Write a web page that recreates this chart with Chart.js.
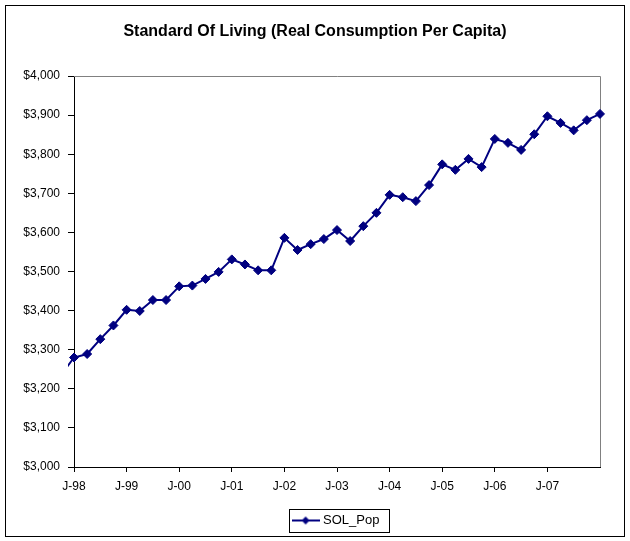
<!DOCTYPE html>
<html>
<head>
<meta charset="utf-8">
<script src="https://cdn.jsdelivr.net/npm/chart.js@4"></script>
<style>
  html, body { margin: 0; padding: 0; background: #fff; }
  #wrap { width: 630px; height: 541px; }
</style>
</head>
<body>
<div id="wrap"><canvas id="solChart" width="630" height="541"></canvas></div>
<script>
// quarterly observations (first and last lie just outside the axis range)
const quarters = [
  '1997-10',
  '1998-01', '1998-04', '1998-07', '1998-10',
  '1999-01', '1999-04', '1999-07', '1999-10',
  '2000-01', '2000-04', '2000-07', '2000-10',
  '2001-01', '2001-04', '2001-07', '2001-10',
  '2002-01', '2002-04', '2002-07', '2002-10',
  '2003-01', '2003-04', '2003-07', '2003-10',
  '2004-01', '2004-04', '2004-07', '2004-10',
  '2005-01', '2005-04', '2005-07', '2005-10',
  '2006-01', '2006-04', '2006-07', '2006-10',
  '2007-01', '2007-04', '2007-07', '2007-10',
  '2008-01', '2008-04'
];
const solPop = [
  3235,
  3280, 3289, 3327, 3362,
  3402, 3399, 3427, 3427,
  3462, 3464, 3481, 3499,
  3531, 3518, 3503, 3503,
  3586, 3555, 3570, 3583,
  3606, 3578, 3616, 3650,
  3696, 3690, 3680, 3721,
  3774, 3760, 3788, 3767,
  3839, 3829, 3811, 3851,
  3897, 3880, 3861, 3887,
  3903, 3857
];
const yearTicks = ['J-98', 'J-99', 'J-00', 'J-01', 'J-02', 'J-03', 'J-04', 'J-05', 'J-06', 'J-07'];

const NAVY = '#000080';
const FONT = "'Liberation Sans', Arial, sans-serif";

// months since Jan 1998
function monthIndex(q) {
  const [y, m] = q.split('-').map(Number);
  return (y - 1998) * 12 + (m - 1);
}
const points = quarters.map((q, i) => ({ x: monthIndex(q), y: solPop[i] }));

// legend icon: line with a diamond, like Excel
const legendIcon = document.createElement('canvas');
legendIcon.width = 28;
legendIcon.height = 12;
(function () {
  const c = legendIcon.getContext('2d');
  c.strokeStyle = NAVY;
  c.lineWidth = 2;
  c.beginPath();
  c.moveTo(0, 6);
  c.lineTo(28, 6);
  c.stroke();
  c.fillStyle = NAVY;
  c.beginPath();
  c.moveTo(14, 2);
  c.lineTo(18, 6);
  c.lineTo(14, 10);
  c.lineTo(10, 6);
  c.closePath();
  c.fill();
})();

const framePlugin = {
  id: 'frame',
  beforeDraw(chart) {
    const ctx = chart.ctx;
    ctx.save();
    ctx.fillStyle = '#fff';
    ctx.fillRect(0, 0, chart.width, chart.height);
    ctx.restore();
  },
  afterLayout(chart) {
    // centre legend under the plot area
    const lg = chart.legend;
    lg.left = chart.chartArea.left;
    lg.right = chart.chartArea.right;
  },
  beforeDatasetsDraw(chart) {
    const { ctx, chartArea: a } = chart;
    ctx.save();
    ctx.strokeStyle = '#808080';
    ctx.lineWidth = 1;
    ctx.beginPath();
    ctx.moveTo(a.left, a.top + 0.5);
    ctx.lineTo(a.right + 0.5, a.top + 0.5);
    ctx.lineTo(a.right + 0.5, a.bottom);
    ctx.stroke();
    ctx.restore();
  },
  afterDraw(chart) {
    const ctx = chart.ctx;
    ctx.save();
    ctx.strokeStyle = '#000';
    ctx.lineWidth = 1;
    ctx.strokeRect(5.5, 5.5, 619, 531);
    const hb = chart.legend.legendHitBoxes[0];
    if (hb) {
      const l = Math.round(hb.left - 6) + 0.5;
      const t = Math.round(hb.top - 5) + 0.5;
      const r = Math.round(hb.left + hb.width + 10) + 0.5;
      const b = Math.round(hb.top + hb.height + 5) + 0.5;
      ctx.strokeRect(l, t, r - l, b - t);
    }
    ctx.restore();
  }
};

new Chart(document.getElementById('solChart'), {
  type: 'line',
  data: {
    datasets: [{
      label: 'SOL_Pop',
      data: points,
      borderColor: NAVY,
      backgroundColor: NAVY,
      borderWidth: 2,
      tension: 0,
      pointStyle: 'rectRot',
      pointRadius: 4.5,
      pointBorderWidth: 1,
      pointBackgroundColor: NAVY,
      pointBorderColor: NAVY,
      clip: { left: 6, right: 6, top: 6, bottom: 6 }
    }]
  },
  options: {
    responsive: false,
    animation: false,
    events: [],
    layout: { padding: { left: 0, right: 0, top: 0, bottom: 4 } },
    plugins: {
      title: {
        display: true,
        text: 'Standard Of Living (Real Consumption Per Capita)',
        color: '#000',
        font: { family: FONT, size: 16, weight: 'bold' },
        padding: { top: 22.4, bottom: 34.4 }
      },
      legend: {
        display: true,
        position: 'bottom',
        labels: {
          color: '#000',
          font: { family: FONT, size: 13 },
          usePointStyle: true,
          pointStyleWidth: 22,
          padding: 10,
          generateLabels(chart) {
            const items = Chart.defaults.plugins.legend.labels.generateLabels(chart);
            items.forEach(it => { it.pointStyle = legendIcon; });
            return items;
          }
        }
      },
      tooltip: { enabled: false }
    },
    scales: {
      x: {
        type: 'linear',
        min: 0,
        max: 120,
        border: { color: '#000', width: 1 },
        grid: { drawOnChartArea: false, color: '#000', tickLength: 5 },
        ticks: {
          stepSize: 12,
          autoSkip: false,
          maxRotation: 0,
          color: '#000',
          font: { family: FONT, size: 12 },
          padding: 7,
          callback: v => yearTicks[v / 12] ?? null
        },
        afterFit(s) { s.height = 37; }
      },
      y: {
        min: 3000,
        max: 4000,
        border: { color: '#000', width: 1 },
        grid: { drawOnChartArea: false, color: '#000', tickLength: 6 },
        ticks: {
          stepSize: 100,
          color: '#000',
          font: { family: FONT, size: 12 },
          padding: 8,
          callback: v => '$' + v.toLocaleString('en-US')
        },
        afterFit(s) { s.width = 74; }
      },
      yRight: {
        position: 'right',
        display: true,
        min: 3000,
        max: 4000,
        ticks: { display: false },
        grid: { display: false },
        border: { display: false },
        afterFit(s) { s.width = 30; }
      }
    }
  },
  plugins: [framePlugin]
});
</script>
</body>
</html>
